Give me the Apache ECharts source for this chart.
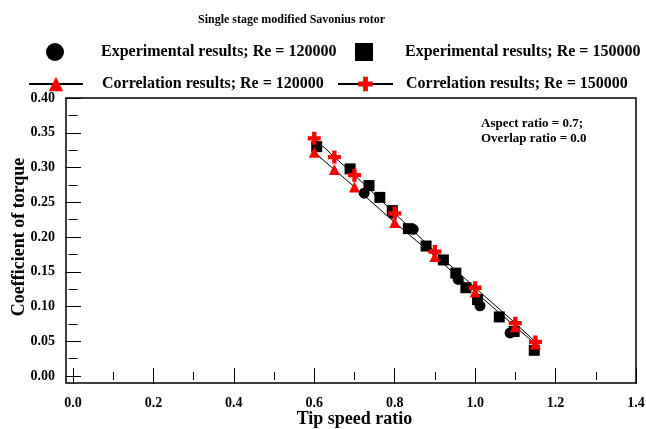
<!DOCTYPE html>
<html><head><meta charset="utf-8">
<script src="https://cdn.jsdelivr.net/npm/echarts@6/dist/echarts.min.js"></script>
<style>html,body{margin:0;padding:0;background:#fff}#c{width:646px;height:429px}</style>
</head><body><div id="c"></div>
<script>
// Data
const expRe120 = [[0.724,0.263],[0.795,0.234],[0.846,0.211],[0.958,0.139],[1.012,0.101],[1.087,0.062]];
const expRe150 = [[0.606,0.330],[0.689,0.298],[0.736,0.274],[0.763,0.257],[0.794,0.238],[0.834,0.212],[0.878,0.187],[0.921,0.167],[0.952,0.148],[0.977,0.127],[1.006,0.110],[1.060,0.085],[1.097,0.064],[1.147,0.037]];
const corrTsr = [0.60,0.65,0.70,0.80,0.90,1.00,1.10,1.15];
const corrRe120 = [0.322,0.297,0.272,0.221,0.172,0.121,0.071,0.046];
const corrRe150 = [0.342,0.315,0.289,0.234,0.179,0.127,0.076,0.049];
const seriesNames = ['Experimental results; Re = 120000','Experimental results; Re = 150000','Correlation results; Re = 120000','Correlation results; Re = 150000'];

const FONT = 'Liberation Serif';
const plusPath = 'path://M4,0H8V4H12V8H8V12H4V8H0V4H4Z';
const chart = echarts.init(document.getElementById('c'));
const axCommon = {type:'value', gridIndex:0, splitLine:{show:false}, minorSplitLine:{show:false}, axisLine:{show:false}};
const tickStyle = {color:'#000', width:1};
function legendItem(name, left, top, w, h, pad){
  return {data:[name], left:left, top:top, padding:0, itemWidth:w, itemHeight:h,
    formatter: n => '{p|' + n + '}',
    textStyle:{fontFamily:FONT, fontWeight:'bold', fontSize:16, color:'#000',
      rich:{p:{fontFamily:FONT, fontWeight:'bold', fontSize:16, color:'#000', padding:[0,0,0,pad]}}}};
}
chart.setOption({
  animation:false,
  backgroundColor:'#fff',
  title:{text:'Single stage modified Savonius rotor', left:193, top:9,
    textStyle:{fontFamily:FONT, fontWeight:'bold', fontSize:12, color:'#000'}},
  legend:[
    legendItem(seriesNames[0], 46, 43, 18, 18, 32),
    legendItem(seriesNames[1], 355, 43, 18, 18, 27),
    legendItem(seriesNames[2], 28, 76, 54, 18, 14),
    legendItem(seriesNames[3], 337, 76, 55, 18, 8)
  ],
  grid:[
    {left:73, right:10, top:98, bottom:53, outerBoundsMode:'none'},
    {left:66, right:10, top:98, bottom:46, show:true, borderColor:'#000', borderWidth:1.5, backgroundColor:'transparent', outerBoundsMode:'none'}
  ],
  xAxis:[
    Object.assign({}, axCommon, {position:'bottom', min:0, max:1.4, interval:0.2, offset:7,
      axisTick:{inside:true, length:8, lineStyle:tickStyle},
      minorTick:{show:true, splitNumber:2, length:4, lineStyle:tickStyle},
      axisLabel:{margin:13, fontFamily:FONT, fontWeight:'bold', fontSize:14, color:'#000', formatter:v=>v.toFixed(1)},
      name:'Tip speed ratio', nameLocation:'middle', nameGap:27, nameMoveOverlap:false,
      nameTextStyle:{fontFamily:FONT, fontWeight:'bold', fontSize:18, color:'#000'}}),
    Object.assign({}, axCommon, {position:'top', min:0, max:1.4, interval:0.2,
      axisTick:{inside:true, length:8, lineStyle:tickStyle},
      minorTick:{show:true, splitNumber:2, length:4, lineStyle:tickStyle},
      axisLabel:{show:false}}),
    {type:'value', gridIndex:1, show:false, min:0, max:1}
  ],
  yAxis:[
    Object.assign({}, axCommon, {position:'left', min:0, max:0.4, interval:0.05, offset:7,
      axisTick:{inside:true, length:8, lineStyle:tickStyle},
      minorTick:{show:true, splitNumber:2, length:4.5, lineStyle:tickStyle},
      axisLabel:{margin:11, fontFamily:FONT, fontWeight:'bold', fontSize:14, color:'#000', formatter:v=>v.toFixed(2)},
      name:'Coefficient of torque', nameLocation:'middle', nameGap:38, nameMoveOverlap:false,
      nameTextStyle:{fontFamily:FONT, fontWeight:'bold', fontSize:18, color:'#000'}}),
    Object.assign({}, axCommon, {position:'right', min:0, max:0.4, interval:0.05,
      axisTick:{inside:true, length:8, lineStyle:tickStyle},
      minorTick:{show:true, splitNumber:2, length:4.5, lineStyle:tickStyle},
      axisLabel:{show:false}}),
    {type:'value', gridIndex:1, show:false, min:0, max:1}
  ],
  graphic:[{type:'text', left:481, top:116, style:{text:'Aspect ratio = 0.7;\nOverlap ratio = 0.0', font:'bold 13px "Liberation Serif"', fill:'#000', lineHeight:15}}],
  series:[
    {name:seriesNames[0], type:'scatter', xAxisIndex:0, yAxisIndex:0, data:expRe120, symbol:'circle', symbolSize:11, itemStyle:{color:'#000', opacity:1}},
    {name:seriesNames[1], type:'scatter', xAxisIndex:0, yAxisIndex:0, data:expRe150, symbol:'rect', symbolSize:11, itemStyle:{color:'#000', opacity:1}},
    {name:seriesNames[2], type:'line', xAxisIndex:0, yAxisIndex:0, data:corrTsr.map((x,i)=>[x,corrRe120[i]]), symbol:'triangle', symbolSize:11, showAllSymbol:true,
      itemStyle:{color:'#ff0000'}, lineStyle:{color:'#000', width:1}},
    {name:seriesNames[3], type:'line', xAxisIndex:0, yAxisIndex:0, data:corrTsr.map((x,i)=>[x,corrRe150[i]]), symbol:plusPath, symbolSize:13, showAllSymbol:true,
      itemStyle:{color:'#ff0000'}, lineStyle:{color:'#000', width:1}}
  ]
});
</script></body></html>
